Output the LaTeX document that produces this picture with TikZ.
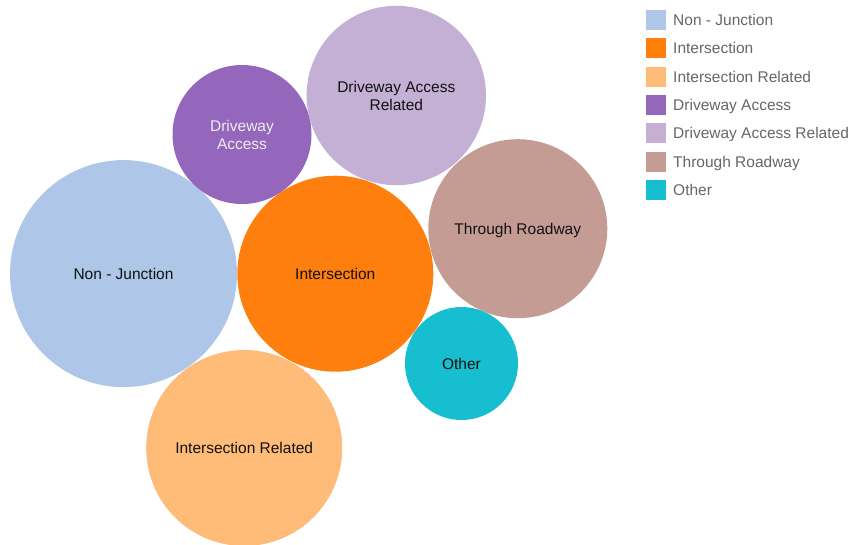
\documentclass[tikz,border=0pt]{standalone}
\usepackage{fontspec}
\setmainfont{Liberation Sans}
\definecolor{cNJ}{HTML}{AEC7E8}
\definecolor{cI}{HTML}{FF7F0E}
\definecolor{cIR}{HTML}{FFBB78}
\definecolor{cDA}{HTML}{9467BD}
\definecolor{cDAR}{HTML}{C5B0D5}
\definecolor{cTR}{HTML}{C49C94}
\definecolor{cO}{HTML}{17BECF}
\definecolor{legtext}{HTML}{666666}
\definecolor{bubtext}{HTML}{111111}
\begin{document}
\begin{tikzpicture}[x=1pt,y=-1pt,
  bubble/.style={circle,inner sep=0pt,outer sep=0pt,draw=none,font=\fontsize{15.5}{18}\selectfont,text=bubtext,align=center,text height=11pt,text depth=0pt},
  twoline/.style={text height=29pt,text depth=0pt},
  legsq/.style={minimum width=20pt,minimum height=20pt,inner sep=0pt,draw=none},
  legtxt/.style={anchor=west,inner sep=0pt,font=\fontsize{15.5}{18}\selectfont,text=legtext,text height=11pt,text depth=0pt}]
\useasboundingbox (0,0) rectangle (851,544);
\clip (0,0) rectangle (851,544);
\node[bubble,fill=cNJ,minimum size=227pt] (nj) at (123.5,273.6) {Non - Junction};
\node[bubble,fill=cI,minimum size=196pt] (in) at (335.3,273.7) {Intersection};
\node[bubble,fill=cIR,minimum size=196pt] (ir) at (244.2,448) {Intersection Related};
\node[bubble,twoline,fill=cDA,minimum size=139pt,text=white!93!black] (da) at (242,134.5) {Driveway\\Access};
\node[bubble,twoline,fill=cDAR,minimum size=179.4pt] (dar) at (396.3,95.5) {Driveway Access\\Related};
\node[bubble,fill=cTR,minimum size=179pt] (tr) at (517.8,228.7) {Through Roadway};
\node[bubble,fill=cO,minimum size=113pt] (ot) at (461.5,363.5) {Other};
\foreach \i/\c/\t in {0/cNJ/Non - Junction,1/cI/Intersection,2/cIR/Intersection Related,3/cDA/Driveway Access,4/cDAR/Driveway Access Related,5/cTR/Through Roadway,6/cO/Other}{
  \node[legsq,fill=\c] (sq\i) at (656,20+28.3*\i) {};
  \node[legtxt] (lt\i) at (673,20+28.3*\i) {\t};
}
\end{tikzpicture}
\end{document}
